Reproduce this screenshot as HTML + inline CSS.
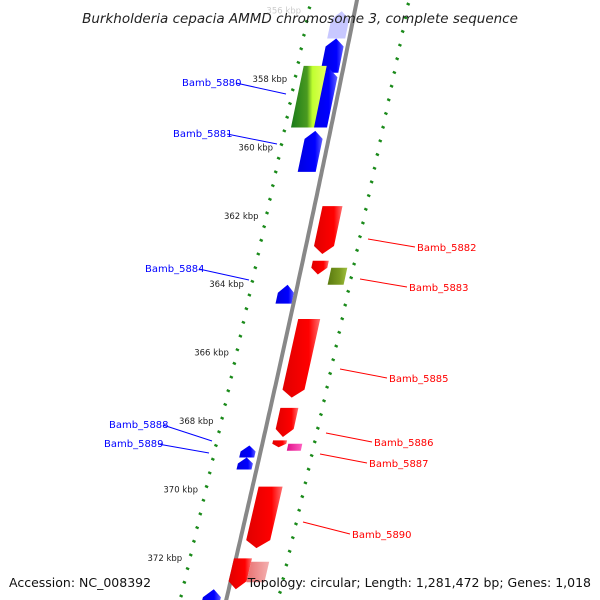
<!DOCTYPE html>
<html><head><meta charset="utf-8"><style>
html,body{margin:0;background:#fff;width:600px;height:600px;overflow:hidden}
svg{display:block;font-family:"DejaVu Sans","Liberation Sans",sans-serif}
</style></head><body>
<svg id="c" width="600" height="600" viewBox="0 0 600 600">
<defs>
<linearGradient id="gb" x1="0" x2="1"><stop offset="0" stop-color="#0000e0"/><stop offset="0.7" stop-color="#0000ff"/><stop offset="1" stop-color="#6060ff"/></linearGradient>
<linearGradient id="gr" x1="0" x2="1"><stop offset="0" stop-color="#e00000"/><stop offset="0.7" stop-color="#ff0000"/><stop offset="1" stop-color="#ff7070"/></linearGradient>
<linearGradient id="gg" x1="0" x2="1"><stop offset="0" stop-color="#1a7a1a"/><stop offset="0.45" stop-color="#4a9a20"/><stop offset="0.6" stop-color="#c0ff30"/><stop offset="1" stop-color="#e8ff60"/></linearGradient>
<linearGradient id="go" x1="0" x2="1"><stop offset="0" stop-color="#5a7a10"/><stop offset="0.6" stop-color="#7a9a20"/><stop offset="1" stop-color="#a0c040"/></linearGradient>
<linearGradient id="gk" x1="0" x2="1"><stop offset="0" stop-color="#e0108a"/><stop offset="1" stop-color="#ff60c0"/></linearGradient>
<linearGradient id="gl" x1="0" x2="1"><stop offset="0" stop-color="#e87070"/><stop offset="1" stop-color="#f4b0b0"/></linearGradient>
</defs>
<g id="ticks"></g>
<path id="bb" fill="none" stroke="#888" stroke-width="4"/>
<g id="genes"></g>
<g id="labels"></g>
<text x="300" y="23" text-anchor="middle" font-size="13.5" font-style="italic" fill="#222">Burkholderia cepacia AMMD chromosome 3, complete sequence</text>
<text x="9" y="587" font-size="12.5" fill="#111">Accession: NC_008392</text>
<text x="591" y="587" text-anchor="end" font-size="12.5" fill="#111">Topology: circular; Length: 1,281,472 bp; Genes: 1,018</text>
</svg>
<script>
// kbp scale
const tickKbp=[356,358,360,362,364,366,368,370,372];
// genes
const geneNames=["g0","g1","g2","Bamb_5880","Bamb_5881","Bamb_5882","g5882b","Bamb_5883","Bamb_5884","Bamb_5885","Bamb_5886","g5886b","Bamb_5887","Bamb_5888","Bamb_5889","Bamb_5890","g5891","g5892","g5893"];
const geneStart=[355.9,356.7,357.6,357.5,359.4,361.6,363.2,363.4,363.9,364.9,367.5,368.45,368.55,368.6,368.95,369.8,371.9,372.0,372.8];
const geneEnd=[356.7,357.7,359.3,359.3,360.6,363.0,363.6,363.9,364.45,367.2,368.35,368.65,368.75,368.95,369.3,371.6,372.8,372.6,373.6];
const geneIn=[-22,-22,-22,-40,-24,8,10,30,-18,8,10,10,26,-20,-20,6,-2,16,-24];
const geneOut=[-4,-4,-4,-17,-6,28,26,46,-2,30,28,24,40,-5,-5,30,16,34,-6];
const geneFill=["#c8c8ff","url(#gb)","url(#gb)","url(#gg)","url(#gb)","url(#gr)","url(#gr)","url(#go)","url(#gb)","url(#gr)","url(#gr)","url(#gr)","url(#gk)","url(#gb)","url(#gb)","url(#gr)","url(#gr)","url(#gl)","url(#gb)"];
const geneDir=[-1,-1,-1,0,-1,1,1,0,-1,1,1,1,0,-1,-1,1,1,0,-1];
const leftLabels=[["Bamb_5880",182,86,286,94],["Bamb_5881",173,137,277,144],["Bamb_5884",145,272,249,280],["Bamb_5888",109,428,212,441],["Bamb_5889",104,447,209,453]];
const rightLabels=[["Bamb_5882",417,251,368,239],["Bamb_5883",409,291,360,279],["Bamb_5885",389,382,340,369],["Bamb_5886",374,446,326,433],["Bamb_5887",369,467,320,454],["Bamb_5890",352,538,303,522]];

const NS="http://www.w3.org/2000/svg";
function yOf(k){return 83+(k-358)*34.2;}
function cx(y){return 357-0.2*y-0.00003*y*y;}
function mk(t,a,p){const e=document.createElementNS(NS,t);for(const k in a)e.setAttribute(k,a[k]);p.appendChild(e);return e;}
let d="M"+cx(-5)+",-5";for(let y=0;y<=605;y+=5)d+=" L"+cx(y).toFixed(1)+","+y;
document.getElementById('bb').setAttribute('d',d);
const T=document.getElementById('ticks');
for(let k=355;k<=374.6;k+=0.4){
  const y=yOf(k), major=Math.abs(k-Math.round(k))<0.01&&Math.round(k)%2===0;
  const xl=cx(y)-46, xr=cx(y+10)+52;
  const L=major?7:3;
  const a=mk('line',{x1:xl-L/2,y1:y-0.7,x2:xl+L/2,y2:y+0.7,stroke:'#1a8a1a','stroke-width':2.4},T);
  
  
  const b=mk('line',{x1:xr-L/2,y1:y+10-0.7,x2:xr+L/2,y2:y+10+0.7,stroke:'#1a8a1a','stroke-width':2.4},T);
  
  
}
tickKbp.forEach(k=>{const y=yOf(k);const t=mk('text',{x:cx(y)-53,y:y-1,'text-anchor':'end','font-size':8.5,fill:k<357?'#ccc':'#222'},T);t.textContent=k+" kbp";

});
const G=document.getElementById('genes');
function P(y,o){return (cx(y)+o).toFixed(1)+","+y.toFixed(1);}
geneNames.forEach((n,i)=>{
  const y0=yOf(geneStart[i]),y1=yOf(geneEnd[i]),a=geneIn[i],b=geneOut[i],m=(a+b)/2,h=Math.min(8,(y1-y0)*0.5);
  let pts;
  if(geneDir[i]>0)pts=[P(y0,a),P(y0,b),P(y1-h,b),P(y1,m),P(y1-h,a)];
  else if(geneDir[i]<0)pts=[P(y0+h,a),P(y0,m),P(y0+h,b),P(y1,b),P(y1,a)];
  else pts=[P(y0,a),P(y0,b),P(y1,b),P(y1,a)];
  const p=mk('polygon',{points:pts.join(' '),fill:geneFill[i]},G);
  
  
});
const Lb=document.getElementById('labels');
leftLabels.forEach(l=>{const ln=mk('line',{x1:l[1]+54,y1:l[2]-3,x2:l[3],y2:l[4],stroke:'#0000ff','stroke-width':1},Lb);


const t=mk('text',{x:l[1],y:l[2],'font-size':10,fill:'#0000ff'},Lb);t.textContent=l[0];

});
rightLabels.forEach(l=>{const ln=mk('line',{x1:l[3],y1:l[4],x2:l[1]-2,y2:l[2]-4,stroke:'#ff0000','stroke-width':1},Lb);


const t=mk('text',{x:l[1],y:l[2],'font-size':10,fill:'#ff0000'},Lb);t.textContent=l[0];

});
</script>
</body></html>
